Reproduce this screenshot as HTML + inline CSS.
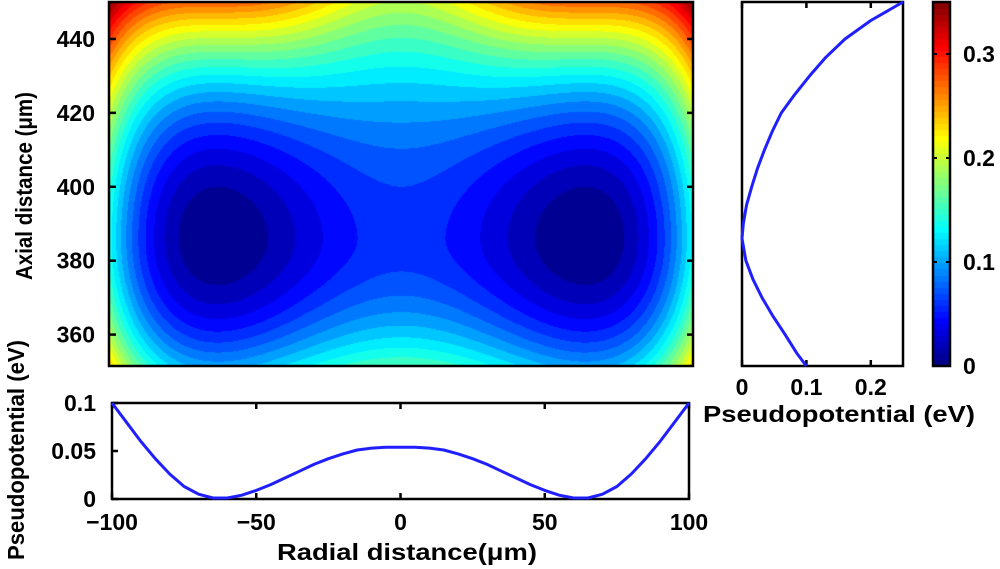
<!DOCTYPE html>
<html><head><meta charset="utf-8">
<style>
body{margin:0;background:#fff;width:1000px;height:569px;overflow:hidden;position:relative;font-family:"Liberation Sans",sans-serif;font-weight:bold;}
svg{position:absolute;left:0;top:0}
canvas{position:absolute}
</style></head>
<body>
<canvas id="heat" width="583" height="364" style="left:110px;top:2px"></canvas>
<canvas id="cbar" width="17" height="364" style="left:933px;top:2px"></canvas>
<svg id="svg" width="1000" height="569"></svg>
<script>
// Radial cut data (bottom panel)
const radialPos = [-100,-95,-90,-85,-80,-75,-70,-65,-60,-55,-50,-45,-40,-35,-30,-25,-20,-15,-10,-5,0,5,10,15,20,25,30,35,40,45,50,55,60,65,70,75,80,85,90,95,100];
const radialPot = [0.1,0.08,0.06,0.042,0.026,0.013,0.005,0.001,0.001,0.004,0.009,0.015,0.022,0.029,0.036,0.042,0.047,0.051,0.053,0.054,0.054,0.054,0.053,0.051,0.047,0.042,0.036,0.029,0.022,0.015,0.009,0.004,0.001,0.001,0.005,0.013,0.026,0.042,0.06,0.08,0.1];
// Axial cut data (right panel)
const axialPos = [351.5,355,360,365,370,375,380,386,390,395,400,405,410,415,420,425,430,435,440,445,450];
const axialPot = [0.1,0.085,0.067,0.048,0.031,0.017,0.006,0,0.002,0.007,0.015,0.024,0.035,0.047,0.061,0.082,0.105,0.13,0.16,0.2,0.25];
const xTicksMain = [-100,-50,0,50,100];
const yTicksMain = [360,380,400,420,440];
const yTicksBottom = [0,0.05,0.1];
const yTickLabelsBottom = ["0","0.05","0.1"];
const xTicksRight = [0,0.1,0.2];
const cbarTicks = [0,0.1,0.2,0.3];

const svg=document.getElementById('svg');
const NS='http://www.w3.org/2000/svg';
function mk(t,a,p){const e=document.createElementNS(NS,t);for(const k in a)e.setAttribute(k,a[k]);(p||svg).appendChild(e);return e;}

const R=[-100,100], Z=[351.5,450];
const xMain=r=>110+(r-R[0])/(R[1]-R[0])*583;
const yMain=z=>366-(z-Z[0])/(Z[1]-Z[0])*364;
const yBot=v=>499-v/0.1*96;
const xRight=v=>742+v/0.25*161;
const yCbar=v=>366-v/0.35*364;

function jet(t){t=Math.max(0,Math.min(1,t));
 const f=x=>Math.max(0,Math.min(1,x));
 return [f(1.5-Math.abs(4*t-3)),f(1.5-Math.abs(4*t-2)),f(1.5-Math.abs(4*t-1))].map(v=>Math.round(v*255));}

function pot(r,z){
 const a=0.054/Math.pow(63,4);
 const rad=a*Math.pow(r*r-63*63,2);
 const dz=z-386;
 let f;
 if(dz>0){const q=(r/63)*(r/63);f=0.5+0.5*q*Math.exp(1-q);}
 else f=0.9;
 const c=dz>0?0.25/(64*64):0.1/(34.5*34.5);
 return rad+c*dz*dz*f;
}
(function(){
 const cv=document.getElementById('heat'),ctx=cv.getContext('2d');
 const W=cv.width,H=cv.height,img=ctx.createImageData(W,H);
 const step=0.012,vmax=0.32;
 for(let y=0;y<H;y++)for(let x=0;x<W;x++){
  const r=R[0]+(x+0.5)/W*(R[1]-R[0]);
  const z=Z[1]-(y+0.5)/H*(Z[1]-Z[0]);
  let v=pot(r,z);
  v=(Math.floor(v/step)+0.5)*step;
  const c=jet(v/vmax);const i=(y*W+x)*4;
  img.data[i]=c[0];img.data[i+1]=c[1];img.data[i+2]=c[2];img.data[i+3]=255;}
 ctx.putImageData(img,0,0);
 const cb=document.getElementById('cbar'),cx=cb.getContext('2d');
 const N=60;
 for(let y=0;y<cb.height;y++){const t=1-y/cb.height;const q=(Math.min(N-1,Math.floor(t*N))+0.5)/N;const c=jet(q);cx.fillStyle=`rgb(${c})`;cx.fillRect(0,y,17,1);}
})();

function box(x,y,w,h,name){const e=mk('rect',{x,y,width:w,height:h,fill:'none',stroke:'#000','stroke-width':2.5});}
function txt(s,x,y,anchor,size,name,rot,len){const e=mk('text',{x,y,'text-anchor':anchor,'font-size':size,'font-weight':'bold','font-family':'Liberation Sans, sans-serif'});if(len){e.setAttribute('textLength',len);e.setAttribute('lengthAdjust','spacingAndGlyphs');}if(rot)e.setAttribute('transform',`rotate(-90 ${x} ${y})`);e.textContent=s;return e;}

const TS=23;
box(109,2,584,364,'main-plot-frame');
yTicksMain.forEach(z=>{const y=yMain(z);mk('line',{x1:110,x2:116,y1:y,y2:y,stroke:'#000','stroke-width':2.5});mk('line',{x1:687,x2:693,y1:y,y2:y,stroke:'#000','stroke-width':2.5});
 txt(String(z),95,y+8,'end',TS,'y-tick-label');});
txt('Axial distance (\u03bcm)',32,186,'middle',23,'y-axis-title',true,188);

box(112,403,577,96,'radial-cut-frame');
xTicksMain.forEach(r=>{const x=112+(r+100)/200*577;mk('line',{x1:x,x2:x,y1:499,y2:493,stroke:'#000','stroke-width':2.5});mk('line',{x1:x,x2:x,y1:403,y2:409,stroke:'#000','stroke-width':2.5});
 txt(r<0?'\u2212'+(-r):String(r),x,530,'middle',TS,'x-tick-label');});
yTicksBottom.forEach((v,i)=>{const y=yBot(v);mk('line',{x1:112,x2:118,y1:y,y2:y,stroke:'#000','stroke-width':2.5});
 txt(yTickLabelsBottom[i],96,y+8,'end',TS,'bottom-y-tick-label');});
const xb=r=>112+(r+100)/200*577;
let d='';radialPos.forEach((r,i)=>{d+=(i?'L':'M')+xb(r).toFixed(1)+' '+yBot(radialPot[i]).toFixed(1);});
const p1=mk('path',{d,fill:'none',stroke:'#1f1fff','stroke-width':3,'stroke-linejoin':'round'});

txt('Radial distance(\u03bcm)',407,560,'middle',23,'x-axis-title',false,260);
txt('Pseudopotential (eV)',24,450,'middle',23,'bottom-y-axis-title',true,220);

box(742,2,161,364,'axial-cut-frame');
xTicksRight.forEach(v=>{const x=xRight(v);mk('line',{x1:x,x2:x,y1:366,y2:360,stroke:'#000','stroke-width':2.5});mk('line',{x1:x,x2:x,y1:2,y2:8,stroke:'#000','stroke-width':2.5});
 txt(String(v),x,395,'middle',TS,'right-x-tick-label');});
d='';axialPos.forEach((z,i)=>{d+=(i?'L':'M')+xRight(axialPot[i]).toFixed(1)+' '+yMain(z).toFixed(1);});
const p2=mk('path',{d,fill:'none',stroke:'#1f1fff','stroke-width':3,'stroke-linejoin':'round'});

txt('Pseudopotential (eV)',839,422,'middle',23,'right-x-axis-title',false,272);

box(933,2,17,364,'colorbar-frame');
cbarTicks.forEach(v=>{const y=yCbar(v);mk('line',{x1:933,x2:937,y1:y,y2:y,stroke:'#000','stroke-width':2});mk('line',{x1:946,x2:950,y1:y,y2:y,stroke:'#000','stroke-width':2});
 txt(String(v),963,y+8,'start',TS,'colorbar-tick-label');});
</script>
</body></html>
